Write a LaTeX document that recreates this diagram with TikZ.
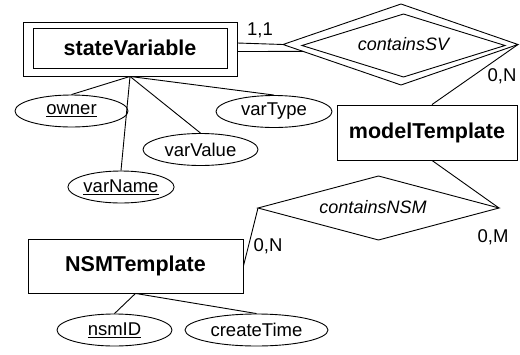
\documentclass[tikz,border=0pt]{standalone}
\usepackage{fontspec}
\setmainfont{Liberation Sans}
\usetikzlibrary{calc,shapes.geometric}
\begin{document}
\begin{tikzpicture}[x=1pt,y=-1pt,line width=0.9pt,
  entity/.style={draw,rectangle,inner sep=0pt,font=\fontsize{21.5}{24}\selectfont\bfseries},
  attr/.style={draw,ellipse,inner sep=0pt,minimum height=32pt,font=\fontsize{18.5}{21}\selectfont},
  reltext/.style={inner sep=0pt,font=\fontsize{18}{21}\selectfont\itshape},
  card/.style={inner sep=0pt,font=\fontsize{18.5}{21}\selectfont}]
\useasboundingbox (0,0) rectangle (520,354);
% entities
\node[entity,minimum width=214pt,minimum height=54pt] (sv) at (130,49) {};
\node[entity,minimum width=194pt,minimum height=40pt] (svin) at (130,48) {stateVariable};
\node[entity,minimum width=180pt,minimum height=55pt] (mt) at (427,132.5) {modelTemplate};
\node[entity,minimum width=215pt,minimum height=54pt] (nt) at (135.5,266) {NSMTemplate};
% relationship containsSV (double diamond)
\coordinate (csvW) at (283,44.5);
\coordinate (csvN) at (401,4);
\coordinate (csvE) at (518,44.5);
\coordinate (csvS) at (401,85);
\coordinate (csviW) at (302,45.5);
\coordinate (csviN) at (403.5,14);
\coordinate (csviE) at (505,45.5);
\coordinate (csviS) at (403.5,77);
\draw (csvW) -- (csvN) -- (csvE) -- (csvS) -- cycle;
\draw (csviW) -- (csviN) -- (csviE) -- (csviS) -- cycle;
\node[reltext] (csv) at (403.5,44) {containsSV};
% relationship containsNSM
\coordinate (cnW) at (258,208);
\coordinate (cnN) at (378.5,176);
\coordinate (cnE) at (499,208);
\coordinate (cnS) at (378.5,240);
\draw (cnW) -- (cnN) -- (cnE) -- (cnS) -- cycle;
\node[reltext] (cnsm) at (373,207) {containsNSM};
% attributes
\node[attr,minimum width=113pt] (owner) at (71.5,111) {\underline{owner}};
\node[attr,minimum width=116pt] (vtype) at (274,111.5) {varType};
\node[attr,minimum width=106pt] (vname) at (121,187) {\underline{varName}};
\node[attr,minimum width=115pt] (vvalue) at (200.5,149.5) {varValue};
\node[attr,minimum width=115pt] (nsmid) at (114.5,330) {\underline{nsmID}};
\node[attr,minimum width=143pt] (ctime) at (256.5,330) {createTime};
% cardinalities
\node[card] (c11) at (260,30) {1,1};
\node[card] (c0n) at (502,76) {0,N};
\node[card] (c0m) at (493,237) {0,M};
\node[card] (c0n2) at (268,246) {0,N};
% connectors
\draw ([yshift=6pt]sv.east) -- (csvW);
\draw ([yshift=-2.5pt]sv.east) -- ($(csvW)!0.17!(csvS)$);
\draw (csvE) -- ([xshift=5pt]mt.north);
\draw ([xshift=5pt]mt.south) -- (cnE);
\draw (cnW) -- (nt.east);
\draw (sv.south) -- (owner.north);
\draw (sv.south) -- (vtype.north);
\draw (sv.south) -- (vname.north);
\draw (sv.south) -- (vvalue.north);
\draw (nt.south) -- (nsmid.north);
\draw (nt.south) -- (ctime.north);
\end{tikzpicture}
\end{document}
